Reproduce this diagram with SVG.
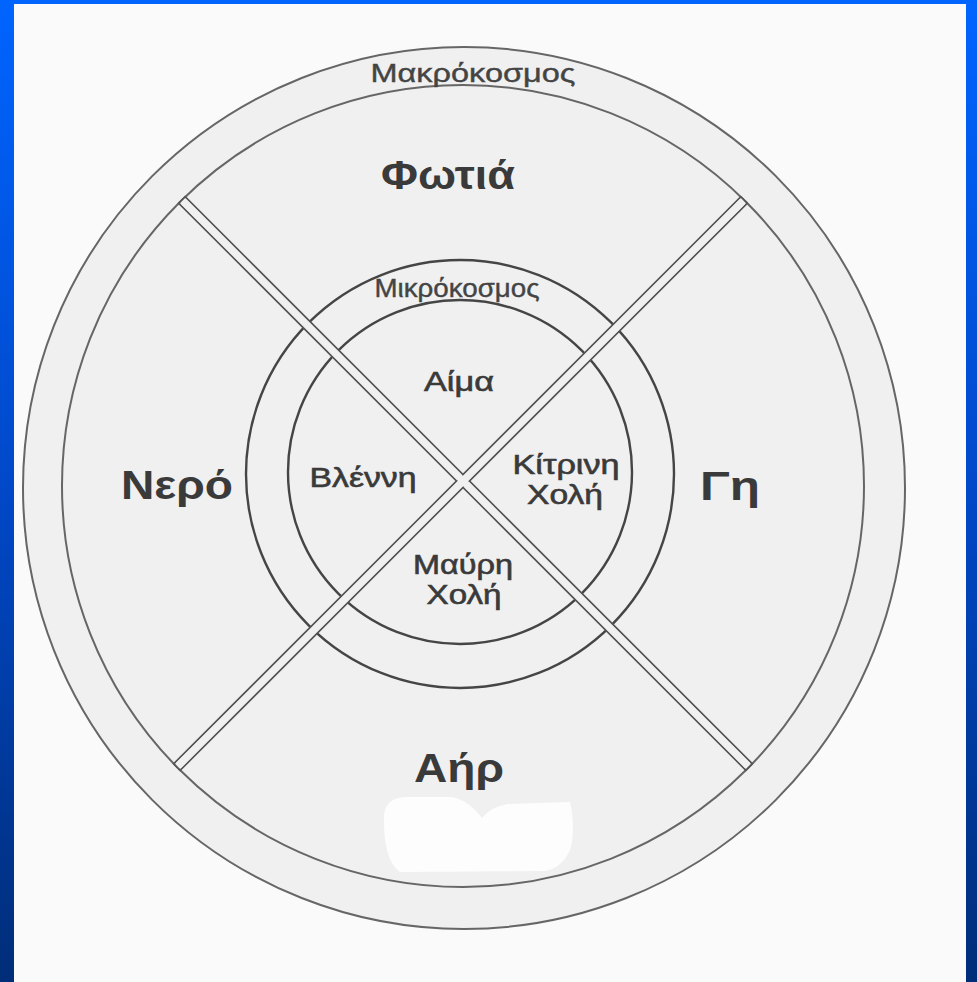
<svg xmlns="http://www.w3.org/2000/svg" width="977" height="982" viewBox="0 0 977 982">
<defs>
<linearGradient id="bg" x1="0" y1="0" x2="0" y2="1">
<stop offset="0" stop-color="#0064ff"/>
<stop offset="0.5" stop-color="#0048c8"/>
<stop offset="1" stop-color="#002d78"/>
</linearGradient>
</defs>
<style>
.ring{fill:none;stroke:#666;stroke-width:2}
.micro{fill:none;stroke:#454545;stroke-width:2.4}
.band{fill:#f0f0f0;stroke:#555;stroke-width:1.8}
.bandfill{fill:#f0f0f0;stroke:none}
.big{font-family:"Liberation Sans",Arial,sans-serif;font-weight:bold;font-size:40px;fill:#3a3a3a;text-anchor:middle}
.mid{font-family:"Liberation Sans",Arial,sans-serif;font-size:27px;fill:#3a3a3a;stroke:#3a3a3a;stroke-width:0.6;text-anchor:middle}
.lbl{font-family:"Liberation Sans",Arial,sans-serif;font-size:26px;fill:#444;stroke:#444;stroke-width:0.4;text-anchor:middle}
</style>
<rect x="0" y="0" width="977" height="982" fill="url(#bg)"/>
<rect x="14" y="4" width="952" height="978" fill="#fafafa"/>

<g id="macrocosm">
<circle cx="464" cy="488" r="441" fill="#f0f0f0" stroke="#666" stroke-width="2"/>
<circle class="ring" cx="463" cy="486" r="401"/>
<text class="lbl" x="473" y="82" textLength="205" lengthAdjust="spacingAndGlyphs">Μακρόκοσμος</text>
</g>

<g id="microcosm">
<circle class="micro" cx="460" cy="474" r="214"/>
<circle class="micro" cx="460" cy="472" r="172"/>
<text class="lbl" x="457" y="297" font-size="24" textLength="165" lengthAdjust="spacingAndGlyphs">Μικρόκοσμος</text>
</g>

<path id="erased" d="M384 815 Q386 798 405 797 L452 797 Q468 800 482 818 Q492 806 508 804 L570 802 Q576 830 570 850 Q562 868 545 871 L400 872 Q383 860 384 815 Z" fill="#fdfdfd"/>

<g id="connectors">
<rect class="band" x="-401" y="-4.5" width="802" height="9" transform="translate(465.5 483.5) rotate(45)"/>
<rect class="band" x="-401" y="-4.5" width="802" height="9" transform="translate(460.5 483.5) rotate(-45)"/>
<rect class="bandfill" x="-399" y="-3.6" width="798" height="7.2" transform="translate(465.5 483.5) rotate(45)"/>
<rect class="bandfill" x="-399" y="-3.6" width="798" height="7.2" transform="translate(460.5 483.5) rotate(-45)"/>
</g>

<g id="fire"><text class="big" x="448" y="189" textLength="134" lengthAdjust="spacingAndGlyphs">Φωτιά</text></g>
<g id="water"><text class="big" x="177" y="499" textLength="112" lengthAdjust="spacingAndGlyphs">Νερό</text></g>
<g id="earth"><text class="big" x="730" y="500" textLength="60" lengthAdjust="spacingAndGlyphs">Γη</text></g>
<g id="air"><text class="big" x="459" y="782" textLength="90" lengthAdjust="spacingAndGlyphs">Αήρ</text></g>

<g id="blood"><text class="mid" x="459" y="391" textLength="70" lengthAdjust="spacingAndGlyphs">Αίμα</text></g>
<g id="phlegm"><text class="mid" x="363" y="487" textLength="107" lengthAdjust="spacingAndGlyphs">Βλέννη</text></g>
<g id="yellow-bile">
<text class="mid" x="566" y="474" textLength="107" lengthAdjust="spacingAndGlyphs">Κίτρινη</text>
<text class="mid" x="565" y="504" textLength="76" lengthAdjust="spacingAndGlyphs">Χολή</text>
</g>
<g id="black-bile">
<text class="mid" x="463" y="574" textLength="100" lengthAdjust="spacingAndGlyphs">Μαύρη</text>
<text class="mid" x="464" y="604" textLength="75" lengthAdjust="spacingAndGlyphs">Χολή</text>
</g>
</svg>
